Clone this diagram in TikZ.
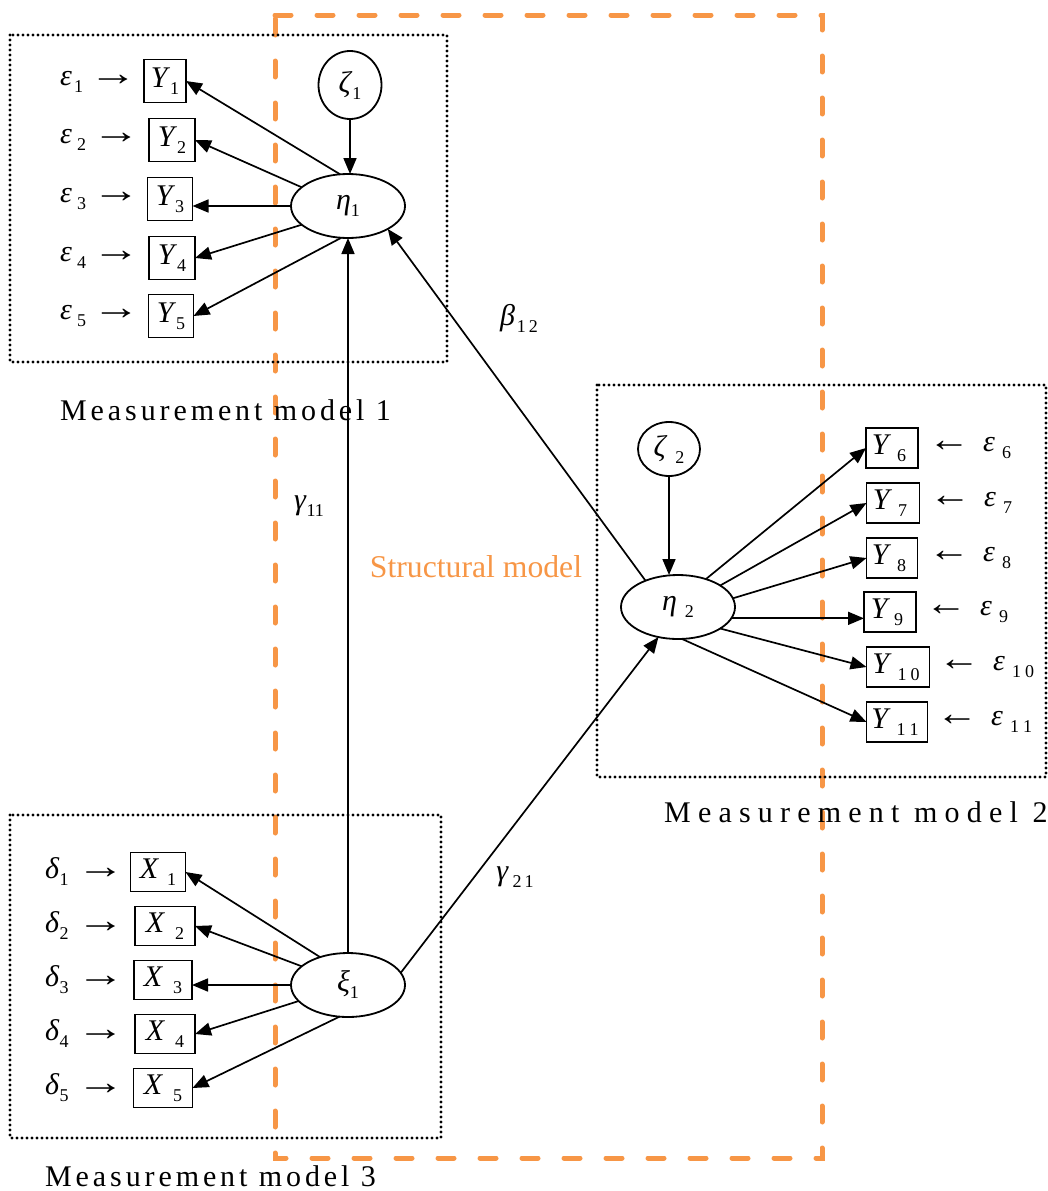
\documentclass[tikz,border=0pt]{standalone}
\usepackage{fontspec}
\setmainfont{Liberation Serif}
\usetikzlibrary{arrows.meta,shapes.geometric}
\definecolor{orng}{HTML}{F79646}
\newcommand\lab[3][0]{\textit{#2}\kern#1pt\raisebox{-7pt}{\fontsize{18}{18}\selectfont #3}}
\newcommand\rarr{\scalebox{1.6}[1.2]{→}}
\newcommand\larr{\scalebox{1.4}[1.2]{←}}
\begin{document}
\begin{tikzpicture}[x=1pt,y=-1pt,
  font=\fontsize{30}{32}\selectfont,
  arr/.style={line width=1.7pt,-{Triangle[length=16pt,width=13pt]}},
  lat/.style={draw,ellipse,line width=1.8pt,inner sep=0pt,outer sep=0pt,minimum width=114pt,minimum height=64pt},
  circ/.style={draw,ellipse,line width=1.8pt,inner sep=0pt,outer sep=0pt},
  obs/.style={draw,rectangle,line width=1.6pt,inner sep=0pt,outer sep=0pt,minimum height=42pt},
  errl/.style={anchor=west,inner sep=0pt},
  dotbox/.style={line width=3.4pt,dash pattern=on 0pt off 5pt,line cap=round},
  orngdash/.style={draw=orng,line width=5pt,line cap=round,dash pattern=on 16pt off 26pt},
  mlab/.style={anchor=west,inner sep=0pt,font=\fontsize{30}{32}\selectfont}
]
\useasboundingbox (0,0) rectangle (1048,1191);
% structural frame
\draw[orngdash] (275,15) -- (822,15) -- (822,1158) -- (275,1158) -- cycle;
% measurement frames
\draw[dotbox] (10,35) rectangle (447,362);
\draw[dotbox] (597,385) rectangle (1046,777);
\draw[dotbox] (10,815) rectangle (441,1138);

% latent variables
\node[lat] (eta1) at (348,206) {\lab{η}{1}};
\node[lat] (xi1) at (348,985) {\lab{ξ}{1}};
\node[lat] (eta2) at (678,607) {\lab[8]{η}{2}};
\node[circ,minimum width=63pt,minimum height=68pt] (zeta1) at (350,85) {\lab{ζ}{1}};
\node[circ,minimum width=62pt,minimum height=54pt] (zeta2) at (669,449) {\lab[8]{ζ}{2}};

% observed Y1-Y5
\node[obs,minimum width=42pt,minimum height=43pt] (Y1) at (165,81) {\lab{Y}{1}};
\node[obs,minimum width=46pt,minimum height=43pt] (Y2) at (172,140) {\lab{Y}{2}};
\node[obs,minimum width=45pt,minimum height=43pt] (Y3) at (170,199) {\lab{Y}{3}};
\node[obs,minimum width=46pt,minimum height=43pt] (Y4) at (172,258) {\lab{Y}{4}};
\node[obs,minimum width=45pt,minimum height=43pt] (Y5) at (171,316) {\lab{Y}{5}};
% observed Y6-Y11
\node[obs,minimum width=52pt,minimum height=40pt] (Y6) at (892,448) {\lab[6]{Y}{6}\kern6pt};
\node[obs,minimum width=53pt,minimum height=40pt] (Y7) at (893,503) {\lab[6]{Y}{7}\kern6pt};
\node[obs,minimum width=51pt,minimum height=40pt] (Y8) at (892,558) {\lab[6]{Y}{8}\kern6pt};
\node[obs,minimum width=52pt,minimum height=40pt] (Y9) at (890,612) {\lab[4]{Y}{9}\kern6pt};
\node[obs,minimum width=63pt,minimum height=40pt] (Y10) at (898,667) {\lab[6]{Y}{1\kern4pt 0}\kern4pt};
\node[obs,minimum width=61pt,minimum height=40pt] (Y11) at (897,722) {\lab[6]{Y}{1\kern4pt 1}\kern4pt};
% observed X1-X5
\node[obs,minimum width=55pt,minimum height=39pt] (X1) at (158,872) {\lab[8]{X}{1}};
\node[obs,minimum width=60pt,minimum height=39pt] (X2) at (165,926) {\lab[10]{X}{2}};
\node[obs,minimum width=58pt,minimum height=39pt] (X3) at (163,980) {\lab[10]{X}{3}};
\node[obs,minimum width=60pt,minimum height=39pt] (X4) at (165,1034) {\lab[10]{X}{4}};
\node[obs,minimum width=59pt,minimum height=39pt] (X5) at (163,1088) {\lab[10]{X}{5}};

% error labels
\node[errl] (e1) at (60,82) {\lab[2]{ε}{1}\hspace{6pt}\rarr};
\node[errl] (e2) at (60,140) {\lab[5]{ε}{2}\hspace{6pt}\rarr};
\node[errl] (e3) at (60,199) {\lab[5]{ε}{3}\hspace{6pt}\rarr};
\node[errl] (e4) at (60,258) {\lab[5]{ε}{4}\hspace{6pt}\rarr};
\node[errl] (e5) at (60,316) {\lab[5]{ε}{5}\hspace{6pt}\rarr};
\node[errl] (d1) at (45,872) {\lab{δ}{1}\hspace{8pt}\rarr};
\node[errl] (d2) at (45,926) {\lab{δ}{2}\hspace{8pt}\rarr};
\node[errl] (d3) at (45,980) {\lab{δ}{3}\hspace{8pt}\rarr};
\node[errl] (d4) at (45,1034) {\lab{δ}{4}\hspace{8pt}\rarr};
\node[errl] (d5) at (45,1088) {\lab{δ}{5}\hspace{8pt}\rarr};
\node[errl] (e6) at (928,448) {\larr\hspace{13pt}\lab[7]{ε}{6}};
\node[errl] (e7) at (929,503) {\larr\hspace{13pt}\lab[7]{ε}{7}};
\node[errl] (e8) at (928,558) {\larr\hspace{13pt}\lab[7]{ε}{8}};
\node[errl] (e9) at (925,612) {\larr\hspace{13pt}\lab[7]{ε}{9}};
\node[errl] (e10) at (938,667) {\larr\hspace{13pt}\lab[7]{ε}{1\kern4pt 0}};
\node[errl] (e11) at (936,722) {\larr\hspace{13pt}\lab[7]{ε}{1\kern4pt 1}};

% structural paths
\draw[arr] (zeta1.south) -- (zeta1.south |- eta1.north);
\draw[arr] (zeta2.south) -- (zeta2.south |- eta2.north);
\draw[arr] (xi1.north) -- (eta1.south);
\draw[arr] (eta2.141) -- (eta1.-30);
\draw[arr] (xi1.13) -- (eta2.237);

% measurement paths
\draw[arr] (eta1.104) -- (Y1.east);
\draw[arr] (eta1.158) -- (Y2.east);
\draw[arr] (eta1.west) -- (eta1.west -| Y3.east);
\draw[arr] (eta1.202) -- (Y4.east);
\draw[arr] (eta1.258) -- (Y5.east);
\draw[arr] (xi1.135) -- (X1.east);
\draw[arr] (xi1.158) -- (X2.east);
\draw[arr] (xi1.west) -- (xi1.west -| X3.east);
\draw[arr] (xi1.198) -- (X4.east);
\draw[arr] (xi1.255) -- (X5.east);
\draw[arr] (eta2.45) -- (Y6.west);
\draw[arr] (eta2.27) -- (Y7.west);
\draw[arr] (eta2.9) -- (Y8.west);
\draw[arr] (eta2.-12) -- (eta2.-12 -| Y9.west);
\draw[arr] (eta2.-27) -- (Y10.west);
\draw[arr] (eta2.-83) -- (Y11.west);

% path labels
\node (b12) at (519,318) {\lab[2]{β}{1\kern3pt 2}};
\node (g11) at (309,506) {\lab{γ}{11}};
\node (g21) at (515,877) {\lab[4]{γ}{2\kern3pt 1}};
\node[text=orng,font=\fontsize{31.7}{34}\selectfont] (sm) at (476,567) {Structural model};

% frame labels
\node[mlab] (m1) at (60,410) {\addfontfeature{LetterSpace=13}Measurement model 1};
\node[mlab] (m2) at (664,812) {\addfontfeature{LetterSpace=24}Measurement model 2};
\node[mlab] (m3) at (45,1176) {\addfontfeature{LetterSpace=13}Measurement model 3};
\end{tikzpicture}
\end{document}
